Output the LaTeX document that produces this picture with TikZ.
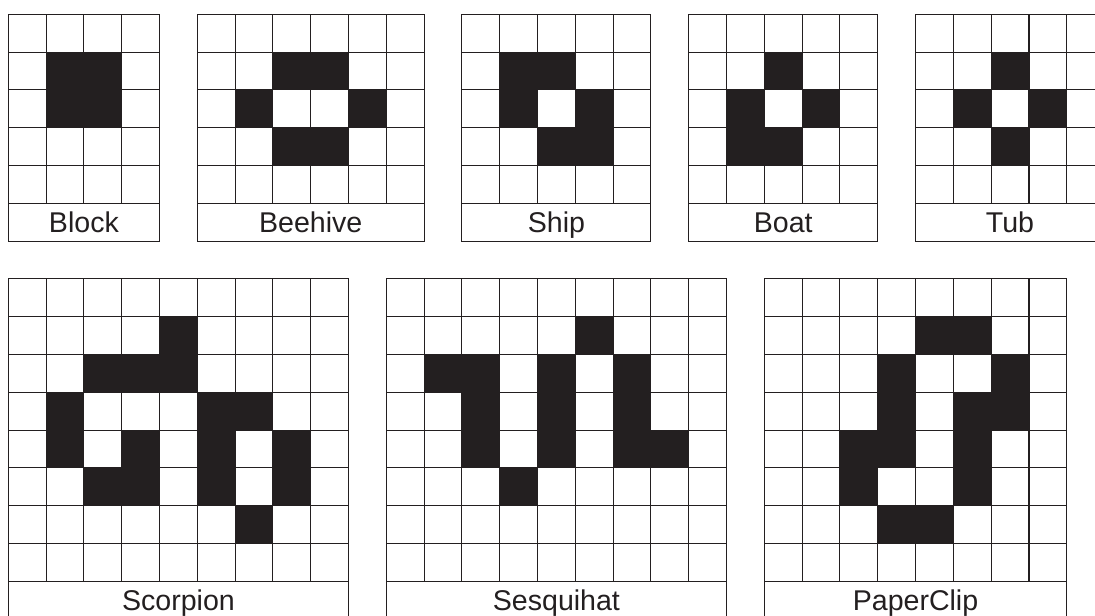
\documentclass[tikz,border=0pt]{standalone}
\usepackage{fontspec}
\setmainfont{Liberation Sans}
\definecolor{ink}{HTML}{231F20}
\tikzset{
  gridline/.style={draw=ink,line width=0.85pt},
  alive/.style={fill=ink},
  lbl/.style={font=\fontsize{21.5}{24}\selectfont, text=ink, anchor=base, inner sep=0pt}
}
\newcommand\lifebox[7]{%
  \begin{scope}[shift={(#2,#3)}]
    \draw[gridline] (0,0) grid (#4,-#5);
    \draw[gridline] (0,-#5) rectangle (#4,-#5-1);
    \foreach \c/\r in {#7} \fill[alive] (\c,-\r) rectangle ++(1,-1);
    \node[lbl] (#1) at (#4/2,-#5-1+0.24) {#6};
  \end{scope}}
\begin{document}
\begin{tikzpicture}[x=1cm,y=1cm]
\useasboundingbox (-0.22,0.378) rectangle (28.748,-15.892);
\clip (-0.22,0.378) rectangle (28.748,-15.892);
\fill[white] (-0.22,0.378) rectangle (28.748,-15.892);
% top row
\lifebox{block}{0}{0}{4}{5}{Block}{1/1,2/1,1/2,2/2}
\lifebox{beehive}{5}{0}{6}{5}{Beehive}{2/1,3/1,1/2,4/2,2/3,3/3}
\lifebox{ship}{12}{0}{5}{5}{Ship}{1/1,2/1,1/2,3/2,2/3,3/3}
\lifebox{boat}{18}{0}{5}{5}{Boat}{2/1,1/2,3/2,1/3,2/3}
\lifebox{tub}{24}{0}{5}{5}{Tub}{2/1,1/2,3/2,2/3}
% bottom row
\lifebox{scorpion}{0}{-7}{9}{8}{Scorpion}{4/1,2/2,3/2,4/2,1/3,5/3,6/3,1/4,3/4,5/4,7/4,2/5,3/5,5/5,7/5,6/6}
\lifebox{sesquihat}{10}{-7}{9}{8}{Sesquihat}{5/1,1/2,2/2,4/2,6/2,2/3,4/3,6/3,2/4,4/4,6/4,7/4,3/5}
\lifebox{paperclip}{20}{-7}{8}{8}{PaperClip}{4/1,5/1,3/2,6/2,3/3,5/3,6/3,2/4,3/4,5/4,2/5,5/5,3/6,4/6}
\end{tikzpicture}
\end{document}
